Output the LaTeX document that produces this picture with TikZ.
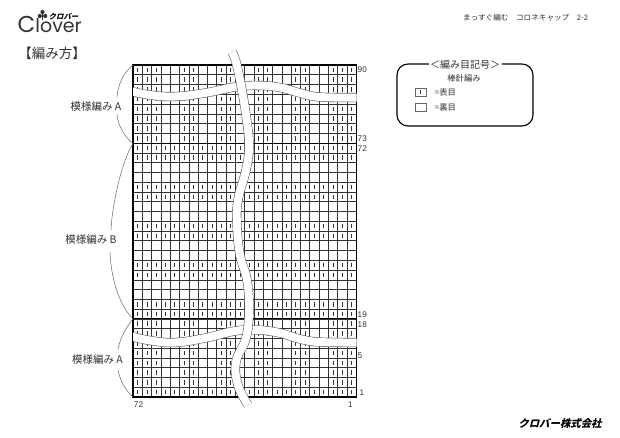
\documentclass[tikz,border=0pt]{standalone}
\usepackage{fontspec}
\setmainfont{Liberation Sans}
\newfontfamily\jp{Noto Sans CJK JP}
\newfontfamily\jpslant[FakeSlant=0.25]{Noto Sans CJK JP}
\newfontfamily\logofont{Poppins}
\definecolor{ink}{HTML}{333333}
\definecolor{soft}{HTML}{666666}
\newcommand{\fs}[1]{\fontsize{#1}{#1}\selectfont}
\tikzset{
  gridline/.style={draw=ink,line width=.6pt},
  frameline/.style={draw=black,line width=1.1pt},
  stitch/.style={draw=ink,line width=.8pt},
  strapedge/.style={draw=soft,line width=9.2pt},
  strapfill/.style={draw=white,line width=8pt},
  brace/.style={draw=soft,line width=.5pt},
  label/.style={inner sep=0pt,text=ink,font=\jp\fs{10.5}},
  rownum/.style={inner sep=0pt,text=ink,font=\fs{8.2}},
  small/.style={inner sep=0pt,text=ink,font=\jp\fs{8.3}},
}
\def\wavea{plot[smooth,tension=.7] coordinates {(130,91) (150,95) (175,96.5) (205,93) (235,87) (258,85.5) (280,87.5) (300,93) (320,97) (360,97.5)}}
\def\waveb{plot[smooth,tension=.7] coordinates {(130,336) (150,340.5) (175,342.5) (205,338) (235,331) (258,330) (280,333) (300,339) (320,342) (360,342.5)}}
\def\wavec{plot[smooth,tension=.7] coordinates {(232,52) (236,62) (241,85) (246,115) (249,145) (246,170) (238,200) (237,225) (240,255) (247,280) (249,310) (246,338) (236,362) (238,385) (248,405)}}
\begin{document}
\begin{tikzpicture}[x=1pt,y=-1pt]
\useasboundingbox (0,0) rectangle (620,438);
\fill[white] (0,0) rectangle (620,438);
\def\xa{133}\def\cw{9.3}\def\ya{65}\def\rh{9.765}
% grid
\foreach \i in {0,...,24}{\draw[gridline] ({\xa+\i*\cw},\ya) -- ({\xa+\i*\cw},{\ya+34*\rh});}
\foreach \j in {0,...,34}{\draw[gridline] (\xa,{\ya+\j*\rh}) -- ({\xa+24*\cw},{\ya+\j*\rh});}
% patterned sections
\foreach \j in {0,...,7,26,27,...,32}{
  \foreach \i in {0,1,2,5,6,9,10,13,14,17,18,21,22,23}{
    \draw[stitch] ({\xa+(\i+.5)*\cw},{\ya+(\j+.5)*\rh-2.3}) -- ++(0,4.6);
  }
}
% plain-knit rows
\foreach \j in {8,9,12,13,16,17,20,21,24,25,33}{
  \foreach \i in {0,...,23}{
    \draw[stitch] ({\xa+(\i+.5)*\cw},{\ya+(\j+.5)*\rh-2.3}) -- ++(0,4.6);
  }
}
% frames
\draw[frameline] (\xa,\ya) rectangle ({\xa+24*\cw},{\ya+34*\rh});
\draw[frameline] (\xa,{\ya+8*\rh}) -- ({\xa+24*\cw},{\ya+8*\rh});
\draw[frameline] (\xa,{\ya+26*\rh}) -- ({\xa+24*\cw},{\ya+26*\rh});
% straps
\begin{scope}
\clip (133,40) rectangle (356.6,420);
\draw[strapedge] \wavea; \draw[strapfill] \wavea;
\draw[strapedge] \waveb; \draw[strapfill] \waveb;
\end{scope}
\draw[strapedge] \wavec; \draw[strapfill] \wavec;
% row numbers
\node[rownum,anchor=west] (n90) at (357.5,69.5) {90};
\node[rownum,anchor=west] (n73) at (357.5,139) {73};
\node[rownum,anchor=west] (n72) at (357.5,148.5) {72};
\node[rownum,anchor=west] (n19) at (357.5,314.5) {19};
\node[rownum,anchor=west] (n18) at (357.5,325) {18};
\node[rownum,anchor=west] (n5) at (357.5,355.5) {5};
\node[rownum,anchor=west] (n1) at (359.5,392.5) {1};
\node[rownum] (b72) at (138.5,404.5) {72};
\node[rownum] (b1) at (350.5,404.5) {1};
% section labels
\node[label] (la) at (96,106.5) {模様編み A};
\node[label] (lb) at (91,240) {模様編み B};
\node[label] (lc) at (97.5,360) {模様編み A};
\coordinate (c1) at (133,65);\coordinate (c2) at (133,143.5);
\coordinate (c3) at (133,319);\coordinate (c4) at (133,397);
\draw[brace] (c1) .. controls (124,72) and (118,84) .. (117,97);
\draw[brace] (117,114) .. controls (118,126) and (124,136) .. (c2);
\draw[brace] (c2) .. controls (122,160) and (112,205) .. (111,230);
\draw[brace] (110,252) .. controls (111,280) and (120,306) .. (c3);
\draw[brace] (c3) .. controls (127,326) and (120,338) .. (118,349);
\draw[brace] (118,370) .. controls (120,381) and (126,391) .. (c4);
% title and header
\node[inner sep=0pt,text=ink,font=\jp\fs{13.5}] (title) at (52,53.5) {【編み方】};
\node[small,font=\jp\fs{7.6},anchor=west] (head) at (463,17.5) {まっすぐ編む　コロネキャップ　2-2};
% legend
\node[draw=black,line width=1.15pt,rounded corners=11pt,minimum width=136pt,minimum height=62pt,inner sep=0pt] (legend) at (465,95) {};
\node[small,fill=white,font=\jp\fs{10},inner xsep=1.5pt,inner ysep=1pt] (ltitle) at (465,64.5) {＜編み目記号＞};
\node[small] (lsub) at (464,78) {棒針編み};
\node[draw=soft,line width=.7pt,minimum width=11pt,minimum height=8pt,inner sep=0pt] (k1) at (420.5,92) {};
\draw[stitch] ([yshift=2.2pt]k1.center) -- ([yshift=-2.2pt]k1.center);
\node[draw=soft,line width=.7pt,minimum width=11pt,minimum height=8pt,inner sep=0pt] (k2) at (420.5,107.5) {};
\node[small,anchor=west] (t1) at (434.5,92) {=表目};
\node[small,anchor=west] (t2) at (434.5,107.5) {=裏目};
% logo
\node[inner sep=0pt,anchor=base west,text=ink,font=\logofont\fs{18}] (logo) at (17.5,33) {\fs{23}C\fs{19}lover};
\fill[ink] (42.5,12) circle (2.1) (39.8,16) circle (2.1) (45.2,16) circle (2.1);
\draw[ink,line width=.7pt] (42.5,14) -- (42.5,20);
\node[inner sep=0pt,text=black,anchor=west,font=\jpslant\bfseries\fs{7.4}] (kana) at (48.5,17) {クロバー};
\node[inner sep=0pt,text=black,font=\jpslant\bfseries\fs{10.4}] (maker) at (560,424) {クロバー株式会社};
\end{tikzpicture}
\end{document}
